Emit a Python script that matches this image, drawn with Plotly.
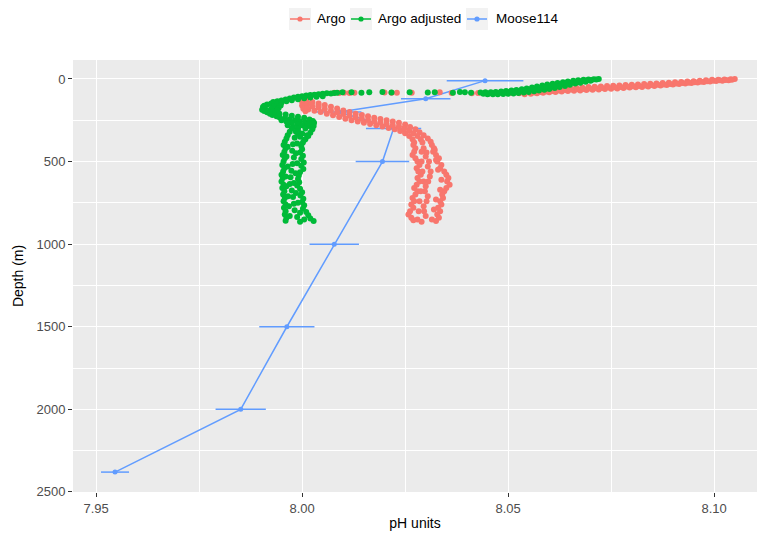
import plotly.graph_objects as go

# ---------------- data ----------------
# Moose114 reference profile
moose_depth = [10, 119, 200, 300, 500, 1000, 1500, 2000, 2380]
moose_ph = [8.0444, 8.0300, 8.0090, 8.0222, 8.0195, 8.0078, 7.9963, 7.9851, 7.9546]
moose_err = [0.0093, 0.0060, 0.0054, 0.0067, 0.0065, 0.0060, 0.0067, 0.0061, 0.0034]

# Argo (raw) profiles
argo_surf_ph = [8.1050, 8.1040, 8.1025, 8.1010, 8.0995, 8.0980, 8.0965, 8.0950, 8.0935, 8.0920,
                8.0905, 8.0890, 8.0875, 8.0860, 8.0845, 8.0830, 8.0815, 8.0800, 8.0785, 8.0770,
                8.0755, 8.0740, 8.0725, 8.0710, 8.0695, 8.0680, 8.0665, 8.0650, 8.0635, 8.0620,
                8.0605, 8.0590, 8.0575,
                8.1035, 8.1020, 8.1005, 8.0990, 8.0975, 8.0960, 8.0945, 8.0930, 8.0915, 8.0900,
                8.0885, 8.0870, 8.0855, 8.0840, 8.0825, 8.0810, 8.0795, 8.0780, 8.0765, 8.0750,
                8.0735, 8.0720, 8.0705, 8.0690, 8.0675, 8.0660, 8.0645, 8.0630, 8.0615, 8.0600,
                8.0585, 8.0570, 8.0555, 8.0540,
                8.1043, 8.1028, 8.1013, 8.0998, 8.0983, 8.0968, 8.0953, 8.0938, 8.0923, 8.0908,
                8.0893, 8.0878, 8.0863, 8.0848, 8.0833, 8.0818, 8.0803, 8.0788, 8.0773, 8.0758,
                8.0743, 8.0728, 8.0713, 8.0698, 8.0683, 8.0668, 8.0653, 8.0638, 8.0623, 8.0608,
                8.0593, 8.0578, 8.0563]
argo_surf_depth = [0, 2, 3, 4, 5, 8, 10, 13, 15, 18,
                   20, 22, 25, 27, 29, 31, 33, 35, 37, 39,
                   41, 43, 45, 47, 49, 51, 53, 55, 57, 60,
                   63, 66, 70,
                   8, 10, 12, 15, 18, 21, 25, 28, 31, 34,
                   37, 40, 43, 45, 48, 50, 52, 55, 57, 59,
                   61, 63, 65, 67, 69, 71, 73, 75, 78, 81,
                   84, 87, 90, 92,
                   4, 6, 8, 10, 13, 16, 19, 22, 25, 27,
                   30, 33, 35, 37, 40, 42, 44, 46, 48, 50,
                   52, 54, 56, 58, 60, 62, 64, 66, 69, 72,
                   75, 79, 82]
argo_sparse_ph = [8.0527, 8.0505, 8.0427, 8.0412, 8.0363, 8.0334, 8.0266, 8.0230, 8.0217,
                  8.0200, 8.0127, 8.0115, 8.0102, 8.0090, 8.0078]
argo_sparse_depth = [86, 84, 85, 86, 85, 80, 84, 83, 84, 82, 84, 85, 83, 85, 84]
argo_hook_ph = [8.0002, 8.0010, 8.0025, 8.0040, 8.0055, 8.0070, 8.0085, 8.0100, 8.0115, 8.0130,
                8.0145, 8.0160, 8.0175, 8.0190, 8.0205, 8.0220, 8.0235, 8.0250, 8.0262, 8.0275,
                8.0285, 8.0295, 8.0305, 8.0312,
                8.0005, 8.0015, 8.0030, 8.0045, 8.0060, 8.0075, 8.0090, 8.0105, 8.0120, 8.0135,
                8.0150, 8.0165, 8.0180, 8.0195, 8.0210, 8.0225, 8.0238, 8.0250, 8.0260, 8.0268,
                8.0272,
                8.0010, 8.0025, 8.0040, 8.0055, 8.0070, 8.0085, 8.0100, 8.0115, 8.0130, 8.0145,
                8.0160, 8.0175, 8.0190, 8.0205, 8.0220, 8.0235, 8.0248, 8.0260, 8.0270, 8.0280,
                8.0288, 8.0292,
                8.0000, 8.0000, 8.0003, 8.0012, 8.0008, 8.0020, 8.0040]
argo_hook_depth = [135, 130, 140, 148, 158, 168, 178, 190, 200, 210,
                   218, 226, 234, 242, 250, 258, 265, 275, 290, 305,
                   322, 340, 360, 380,
                   170, 185, 192, 200, 210, 220, 230, 240, 250, 258,
                   265, 272, 280, 288, 296, 305, 315, 328, 345, 365,
                   385,
                   155, 165, 172, 182, 192, 202, 212, 222, 232, 240,
                   248, 256, 264, 272, 280, 288, 298, 312, 328, 345,
                   365, 385,
                   140, 160, 180, 175, 195, 150, 160]
argo_deep_ph = [8.0270, 8.0275, 8.0272, 8.0268, 8.0275, 8.0280, 8.0285, 8.0278, 8.0282, 8.0288,
                8.0280, 8.0285, 8.0278, 8.0272, 8.0280, 8.0275, 8.0268, 8.0272, 8.0265, 8.0270,
                8.0262, 8.0258, 8.0265, 8.0270,
                8.0315, 8.0320, 8.0318, 8.0325, 8.0332, 8.0328, 8.0338, 8.0335, 8.0345, 8.0350,
                8.0355, 8.0352, 8.0358, 8.0350, 8.0345, 8.0340, 8.0342, 8.0335, 8.0338, 8.0330,
                8.0335, 8.0328, 8.0332, 8.0325,
                8.0295, 8.0300, 8.0305, 8.0310, 8.0300, 8.0305, 8.0295, 8.0300, 8.0290,
                8.0302, 8.0308, 8.0312, 8.0306, 8.0298, 8.0302, 8.0296,
                8.0290, 8.0290, 8.0292, 8.0295, 8.0288, 8.0285, 8.0283, 8.0280,
                8.0322, 8.0325, 8.0330, 8.0338, 8.0335, 8.0325, 8.0320, 8.0315]
argo_deep_depth = [400, 420, 440, 460, 480, 500, 520, 540, 560, 580,
                   600, 620, 640, 660, 680, 700, 720, 740, 760, 780,
                   800, 820, 840, 855,
                   400, 420, 440, 460, 480, 500, 520, 540, 560, 580,
                   600, 620, 640, 660, 680, 700, 720, 740, 760, 780,
                   800, 820, 840, 860,
                   420, 470, 530, 590, 650, 710, 770, 830, 865,
                   445, 500, 560, 620, 680, 740, 800,
                   440, 500, 560, 620, 680, 740, 800, 850,
                   430, 490, 550, 610, 670, 730, 790, 850]

# Argo adjusted profiles
adj_surf_ph = [8.0720, 8.0708, 8.0695, 8.0683, 8.0670, 8.0658, 8.0645, 8.0633, 8.0620, 8.0608,
               8.0595, 8.0583, 8.0570, 8.0558, 8.0545, 8.0533, 8.0520, 8.0508, 8.0495, 8.0483,
               8.0470, 8.0458, 8.0445, 8.0433,
               8.0700, 8.0688, 8.0675, 8.0663, 8.0650, 8.0638, 8.0625, 8.0613, 8.0600, 8.0588,
               8.0575, 8.0563, 8.0550, 8.0538, 8.0525, 8.0513, 8.0500, 8.0488, 8.0475, 8.0463,
               8.0450,
               8.0714, 8.0702, 8.0690, 8.0678, 8.0665, 8.0653, 8.0640, 8.0628, 8.0615, 8.0603,
               8.0590, 8.0578, 8.0565, 8.0553, 8.0540, 8.0528, 8.0515, 8.0503, 8.0490, 8.0478,
               8.0465, 8.0453, 8.0440]
adj_surf_depth = [0, 1, 3, 5, 8, 11, 15, 19, 24, 29,
                  34, 40, 46, 52, 57, 62, 66, 70, 73, 76,
                  78, 80, 81, 82,
                  10, 16, 22, 28, 35, 42, 48, 54, 60, 65,
                  70, 74, 78, 82, 85, 88, 90, 91, 92, 92,
                  93,
                  3, 6, 9, 13, 17, 22, 27, 32, 38, 44,
                  49, 54, 59, 64, 68, 72, 76, 79, 82, 85,
                  87, 88, 89]
adj_sparse_ph = [8.0410, 8.0395, 8.0383, 8.0366, 8.0322, 8.0305, 8.0261, 8.0217, 8.0195,
                 8.0163, 8.0144, 8.0120, 8.0098, 8.0085]
adj_sparse_depth = [84, 80, 78, 83, 80, 82, 80, 82, 78, 80, 83, 81, 80, 84]
adj_hook_ph = [8.0078, 8.0070, 8.0060, 8.0050, 8.0040, 8.0030, 8.0020, 8.0010, 8.0000, 7.9990,
               7.9980, 7.9970, 7.9960, 7.9950, 7.9940, 7.9930,
               8.0050, 8.0035, 8.0020, 8.0005, 7.9990, 7.9975, 7.9962, 7.9950,
               7.9925, 7.9915, 7.9908, 7.9905, 7.9910, 7.9903, 7.9908, 7.9915, 7.9922, 7.9928,
               7.9938, 7.9933, 7.9928, 7.9923, 7.9933,
               7.9945, 7.9958, 7.9970, 7.9983, 7.9995, 8.0008, 8.0018, 8.0022,
               7.9950, 7.9962, 7.9975, 7.9988, 8.0000, 8.0012,
               7.9938, 7.9932, 7.9925, 7.9928, 7.9935, 7.9942, 7.9948, 7.9943, 7.9940,
               7.9945, 7.9960, 7.9975, 7.9990, 8.0005, 8.0018, 8.0026, 8.0029, 8.0028, 8.0024,
               7.9965, 7.9978, 7.9990, 8.0008, 7.9985, 8.0000, 8.0012, 7.9995, 8.0005]
adj_hook_depth = [85, 88, 86, 90, 92, 95, 97, 100, 104, 108,
                  112, 118, 124, 130, 135, 140,
                  105, 108, 112, 117, 122, 128, 135, 142,
                  148, 155, 162, 170, 178, 186, 194, 202, 210, 218,
                  225, 160, 175, 190, 200,
                  232, 238, 244, 250, 256, 262, 268, 276,
                  250, 258, 265, 272, 280, 286,
                  150, 165, 180, 195, 210, 220, 160, 175, 190,
                  210, 215, 222, 228, 235, 245, 255, 265, 285, 295,
                  280, 290, 298, 300, 320, 330, 340, 350, 370]
adj_deep_ph = [7.9975, 7.9970, 7.9965, 7.9962, 7.9958, 7.9955, 7.9960, 7.9957, 7.9953, 7.9958,
               7.9955, 7.9952, 7.9957, 7.9954, 7.9950, 7.9953, 7.9950, 7.9955, 7.9952, 7.9957,
               7.9954, 7.9958, 7.9955, 7.9960, 7.9956, 7.9960, 7.9958, 7.9962, 7.9960,
               8.0025, 8.0020, 8.0015, 8.0008, 8.0002, 7.9998, 8.0000, 7.9995, 8.0002, 7.9998,
               8.0004, 7.9998, 8.0003, 7.9995, 7.9992, 7.9990, 7.9993, 7.9988, 7.9995, 8.0000,
               7.9996, 8.0003, 8.0000, 8.0005, 8.0002, 8.0010, 8.0015, 8.0020, 8.0028,
               7.9990, 7.9982, 7.9978, 7.9976, 7.9980, 7.9977, 7.9974, 7.9972, 7.9970, 7.9975,
               7.9978, 7.9980, 7.9982, 7.9988, 7.9995,
               7.9965, 7.9962, 7.9965, 7.9960, 7.9962, 7.9966, 7.9968, 7.9970,
               7.9990, 7.9988, 7.9985, 7.9988, 7.9984, 7.9980, 7.9985, 7.9990, 7.9995, 8.0005]
adj_deep_depth = [300, 320, 340, 360, 380, 400, 420, 440, 460, 480,
                  500, 520, 540, 560, 580, 600, 620, 640, 660, 680,
                  700, 720, 740, 760, 780, 800, 820, 840, 858,
                  305, 325, 345, 365, 385, 405, 425, 445, 465, 485,
                  505, 525, 545, 565, 585, 605, 625, 645, 665, 685,
                  705, 725, 745, 765, 785, 805, 825, 845, 860,
                  315, 355, 395, 435, 475, 515, 555, 595, 635, 675,
                  715, 755, 795, 835, 865,
                  410, 470, 530, 590, 650, 710, 770, 830,
                  330, 390, 450, 510, 570, 630, 690, 750, 810, 850]

argo_ph = argo_surf_ph + argo_sparse_ph + argo_hook_ph + argo_deep_ph
argo_depth = argo_surf_depth + argo_sparse_depth + argo_hook_depth + argo_deep_depth
adj_ph = adj_surf_ph + adj_sparse_ph + adj_hook_ph + adj_deep_ph
adj_depth = adj_surf_depth + adj_sparse_depth + adj_hook_depth + adj_deep_depth

series_names = ["Argo", "Argo adjusted", "Moose114"]
series_colors = ["#F8766D", "#00BA38", "#619CFF"]

x_ticks = [7.95, 8.00, 8.05, 8.10]
x_ticktext = ["7.95", "8.00", "8.05", "8.10"]
x_minor = [7.975, 8.025, 8.075]
y_ticks = [0, 500, 1000, 1500, 2000, 2500]
y_minor = [250, 750, 1250, 1750, 2250]

# ---------------- figure ----------------
FONT = "Liberation Sans, Arial, Helvetica, sans-serif"
W, H = 762, 534
ML, MR, MT, MB = 73, 5, 60, 42
PW, PH = W - ML - MR, H - MT - MB


def px_x(px):
    return (px - ML) / PW


def px_y(py):
    return (H - MB - py) / PH


fig = go.Figure()

fig.add_trace(go.Scatter(
    x=moose_ph, y=moose_depth, mode="lines+markers", name="Moose114",
    line=dict(color=series_colors[2], width=1.5),
    marker=dict(color=series_colors[2], size=5),
    error_x=dict(type="data", array=moose_err, width=0, thickness=1.5, color=series_colors[2]),
    showlegend=False))
fig.add_trace(go.Scatter(
    x=argo_ph, y=argo_depth, mode="markers", name="Argo",
    marker=dict(color=series_colors[0], size=6), showlegend=False))
fig.add_trace(go.Scatter(
    x=adj_ph, y=adj_depth, mode="markers", name="Argo adjusted",
    marker=dict(color=series_colors[1], size=6), showlegend=False))

# ggplot-style legend on top: grey key box, line + point key, label
key_left_px = [289, 350, 466]
label_left_px = [316, 377, 495]
KEY, KEY_CY = 22, 19
shapes, annotations = [], []
for nm, col, kx, lx in zip(series_names, series_colors, key_left_px, label_left_px):
    shapes.append(dict(type="rect", xref="paper", yref="paper", layer="above",
                       x0=px_x(kx), x1=px_x(kx + KEY),
                       y0=px_y(KEY_CY + KEY / 2), y1=px_y(KEY_CY - KEY / 2),
                       fillcolor="#F2F2F2", line=dict(width=0)))
    shapes.append(dict(type="line", xref="paper", yref="paper", layer="above",
                       x0=px_x(kx + 1), x1=px_x(kx + KEY - 1),
                       y0=px_y(KEY_CY), y1=px_y(KEY_CY),
                       line=dict(color=col, width=1.5)))
    shapes.append(dict(type="circle", xref="paper", yref="paper", layer="above",
                       xsizemode="pixel", ysizemode="pixel",
                       xanchor=px_x(kx + KEY / 2), yanchor=px_y(KEY_CY),
                       x0=-2.6, x1=2.6, y0=-2.6, y1=2.6,
                       fillcolor=col, line=dict(width=0)))
    annotations.append(dict(text=nm, xref="paper", yref="paper", showarrow=False,
                            x=px_x(lx - 1), xanchor="left", y=px_y(KEY_CY), yanchor="middle",
                            font=dict(family=FONT, size=13.5, color="black")))

fig.update_layout(
    width=W, height=H,
    margin=dict(l=ML, r=MR, t=MT, b=MB),
    paper_bgcolor="white", plot_bgcolor="#EBEBEB",
    font=dict(family=FONT, size=13, color="#4D4D4D"),
    showlegend=False,
    shapes=shapes, annotations=annotations,
    xaxis=dict(range=[7.9444, 8.1104], tickvals=x_ticks, ticktext=x_ticktext,
               showgrid=True, gridcolor="white", gridwidth=1.2,
               minor=dict(tickvals=x_minor, showgrid=True, gridcolor="white", gridwidth=0.6),
               ticks="outside", ticklen=4, tickcolor="#333333", tickwidth=1,
               zeroline=False, showline=False,
               tickfont=dict(family=FONT, size=13, color="#4D4D4D"),
               title=dict(text="pH units", font=dict(family=FONT, size=14, color="black"), standoff=3)),
    yaxis=dict(range=[2500.5, -115], tickvals=y_ticks,
               showgrid=True, gridcolor="white", gridwidth=1.2,
               minor=dict(tickvals=y_minor, showgrid=True, gridcolor="white", gridwidth=0.6),
               ticks="outside", ticklen=4, tickcolor="#333333", tickwidth=1,
               zeroline=False, showline=False,
               tickfont=dict(family=FONT, size=13, color="#4D4D4D"),
               title=dict(text="Depth (m)", font=dict(family=FONT, size=14, color="black"), standoff=9)),
)

fig.write_html("out.html", config={"displayModeBar": False},
               post_script="document.body.style.margin='0px';")
